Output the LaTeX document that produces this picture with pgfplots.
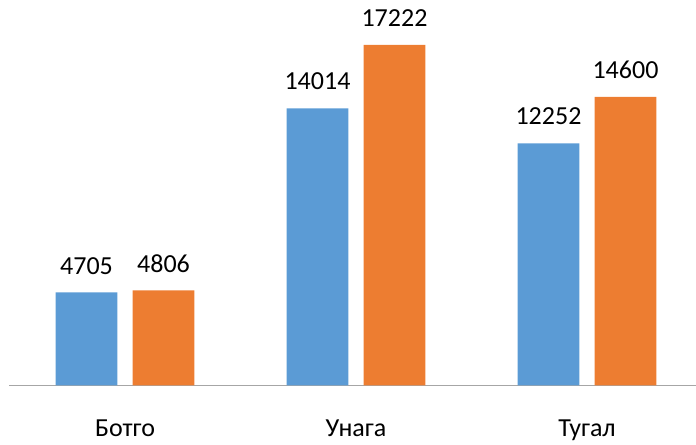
\documentclass[border=0pt]{standalone}
\usepackage{fontspec}
\setmainfont{Carlito}
\usepackage{pgfplots}
\pgfplotsset{compat=1.18}
\definecolor{barblue}{HTML}{5B9BD5}
\definecolor{barorange}{HTML}{ED7D31}
\definecolor{basegray}{HTML}{A6A6A6}
\begin{document}
\fontsize{19.5}{23}\selectfont
\begin{tikzpicture}
\begin{axis}[
  at={(0,0)}, anchor=south west,
  scale only axis,
  width=514.875pt, height=289.125pt,
  xmin=-0.5, xmax=2.4719,
  ymin=0, ymax=19498,
  axis y line=none,
  axis x line*=bottom,
  x axis line style={-, draw=basegray, line width=0.75pt},
  xtick={0,1,2},
  xticklabels={Ботго,Унага,Тугал},
  xtick style={draw=none},
  major tick length=0pt,
  xticklabel style={anchor=base, yshift=-38.6pt, font=\fontsize{19.5}{23}\selectfont},
  ybar,
  bar width=46.2pt,
  /pgf/number format/.cd, 1000 sep={}, assume math mode=true,
  /pgfplots/.cd,
  nodes near coords,
  every node near coord/.append style={anchor=south, inner sep=0pt, yshift=13.5pt, text=black, font=\fontsize{19.5}{23}\selectfont},
  clip=false,
]
\addplot[fill=barblue, draw=none, bar shift=-28.875pt] coordinates {(0,4705) (1,14014) (2,12252)};
\addplot[fill=barorange, draw=none, bar shift=28.875pt] coordinates {(0,4806) (1,17222) (2,14600)};
\end{axis}
\pgfresetboundingbox
\useasboundingbox (-7.125pt,-44.625pt) rectangle (514.875pt,289.125pt);
\end{tikzpicture}
\end{document}
